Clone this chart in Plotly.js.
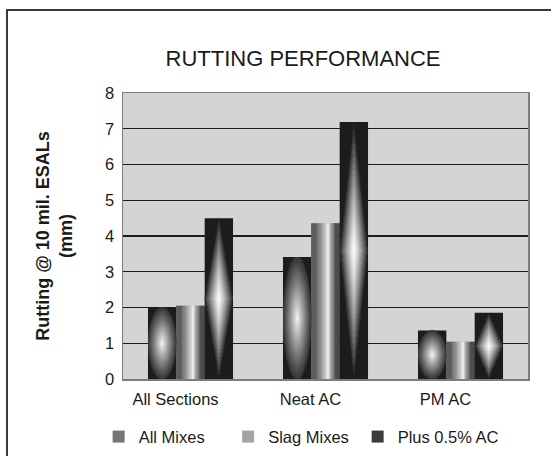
<!DOCTYPE html>
<html>
<head>
<meta charset="utf-8">
<script src="https://cdn.plot.ly/plotly-3.0.1.min.js"></script>
<style>
  html, body { margin: 0; padding: 0; background: #ffffff; }
  #wrap { position: relative; width: 551px; height: 456px; overflow: hidden; }
  #chart { position: absolute; left: 0; top: 0; width: 551px; height: 456px; }
  #frame { position: absolute; left: 6px; top: 9px; width: 700px; height: 700px;
           border-left: 2px solid #3a3a3a; border-top: 2px solid #3a3a3a; pointer-events: none; }
  #chart .barlayer path { shape-rendering: geometricPrecision !important; }
  #chart .legend .scrollbox { clip-path: none !important; }
</style>
</head>
<body>
<div id="wrap">
  <div id="chart"></div>
  <div id="frame"></div>
</div>
<script>
// ---- data ----
const categories = ['All Sections', 'Neat AC', 'PM AC'];
const seriesNames = ['All Mixes', 'Slag Mixes', 'Plus 0.5% AC'];
const allMixes = [2.0, 3.41, 1.36];
const slagMixes = [2.05, 4.36, 1.04];
const plusAC = [4.5, 7.19, 1.85];
const yTickVals = [0, 1, 2, 3, 4, 5, 6, 7, 8];
const yTickText = ['0', '1', '2', '3', '4', '5', '6', '7', '8'];

// ---- styling helpers ----
const BAR_W = 0.21;
const OFFSETS = [-0.315, -0.105, 0.105];
const BLACK = '#1e1b1b';

function hex(c) { return [parseInt(c.slice(1,3),16), parseInt(c.slice(3,5),16), parseInt(c.slice(5,7),16)]; }
function mix(a, b, f) {
  const A = hex(a), B = hex(b);
  return 'rgb(' + A.map((v, i) => Math.round(v + (B[i] - v) * f)).join(',') + ')';
}
function profile(stops, u) {
  for (let i = 1; i < stops.length; i++) {
    if (u <= stops[i][0]) {
      const f = (u - stops[i-1][0]) / (stops[i][0] - stops[i-1][0]);
      return mix(stops[i-1][1], stops[i][1], f);
    }
  }
  return stops[stops.length-1][1];
}
// one decorative rectangle per category, sized as fractions of the data bar
function part(values, si, fl, fw, fb, fh, color) {
  fw = Math.min(fw, 1); fh = Math.min(fh, 1);
  fl = Math.max(fl, 0); fb = Math.max(fb, 0);
  return {
    type: 'bar', x: categories,
    y: values.map(v => v * fh), base: values.map(v => v * fb),
    offset: OFFSETS[si] + BAR_W * fl, width: BAR_W * fw,
    marker: { color: color, line: { width: 0 } },
    hoverinfo: 'skip', showlegend: false
  };
}

const traces = [];
// legend entries (drawn first, fully hidden behind the real bars)
const legendColors = ['#767676', '#a4a4a4', '#3c3c3c'];
[allMixes, slagMixes, plusAC].forEach((vals, si) => {
  traces.push({
    type: 'bar', name: seriesNames[si], x: categories, y: vals.map(v => v * 0.5),
    base: vals.map(v => v * 0.25),
    offset: OFFSETS[si] + BAR_W * 0.25, width: BAR_W * 0.5,
    marker: { color: legendColors[si], line: { width: 0 } },
    hoverinfo: 'skip', showlegend: true
  });
});
// base bars
[allMixes, slagMixes, plusAC].forEach((vals, si) => {
  traces.push({
    type: 'bar', name: seriesNames[si], x: categories, y: vals,
    offset: OFFSETS[si], width: BAR_W,
    marker: { color: si === 1 ? legendColors[1] : BLACK, line: { width: 0 } },
    hovertemplate: '%{x}: %{y} mm<extra>' + seriesNames[si] + '</extra>',
    showlegend: false
  });
});

// All Mixes: elliptical radial gradient
(function () {
  const L = 20, m = 14;
  const step = Math.PI / 2 / m;
  const s = 2 / (1 + Math.sqrt(2) * Math.cos(Math.PI / 4 + step / 2));
  for (let k = 0; k < L; k++) {
    const t = 1 - k / L;
    const tc = t - 0.5 / L;
    const col = mix('#333333', '#f2f2f2', Math.pow(1 - tc, 1.1));
    for (let j = 0; j < m; j++) {
      const th = (j + 0.5) * step;
      const w = t * s * Math.cos(th), h = t * s * Math.sin(th);
      traces.push(part(allMixes, 0, 0.5 - w / 2, w, 0.5 - h / 2, h, col));
    }
  }
})();

// Slag Mixes: cylindrical (horizontal) gradient
(function () {
  const N = 24;
  const stops = [[0, '#404040'], [0.25, '#707070'], [0.48, '#c8c8c8'], [0.58, '#fafafa'],
                 [0.7, '#a0a0a0'], [0.85, '#505050'], [1, '#262626']];
  for (let i = 0; i < N; i++) {
    const u = (i + 0.5) / N;
    traces.push(part(slagMixes, 1, i / N, 1 / N + 0.002, 0, 1, profile(stops, u)));
  }
})();

// Plus 0.5% AC: diamond gradient
(function () {
  const L = 18, m = 16;
  const s = 1 + 0.5 / m;
  for (let k = 0; k < L; k++) {
    const t = 1 - k / L;
    const tc = t - 0.5 / L;
    const col = mix('#262323', '#f8f8f8', 1 - Math.pow(Math.max(tc, 0), 1.3));
    for (let j = 0; j < m; j++) {
      const u = (j + 0.5) / m;
      const w = t * s * u, h = t * s * (1 - u);
      traces.push(part(plusAC, 2, 0.5 - w / 2, w, 0.5 - h / 2, h, col));
    }
  }
})();

const layout = {
  width: 551, height: 456,
  margin: { l: 123, r: 23, t: 93, b: 77 },
  paper_bgcolor: '#ffffff',
  plot_bgcolor: '#d3d4d6',
  barmode: 'overlay',
  font: { family: 'Liberation Sans, Arial, sans-serif', color: '#1a1a1a' },
  title: {
    text: 'RUTTING PERFORMANCE',
    font: { size: 22, color: '#1a1a1a' },
    x: 0.55, xref: 'container', xanchor: 'center',
    y: 0.873, yref: 'container', yanchor: 'middle'
  },
  xaxis: {
    type: 'category', categoryorder: 'array', categoryarray: categories,
    range: [-0.5, 2.5],
    showline: true, linecolor: '#7d7d7d', linewidth: 1.5, mirror: true,
    showgrid: false, ticks: '', ticklabelstandoff: 5, ticklabelshift: -15,
    tickfont: { size: 16.5, color: '#1a1a1a' }
  },
  yaxis: {
    range: [0, 8], tickvals: yTickVals, ticktext: yTickText,
    showline: true, linecolor: '#7d7d7d', linewidth: 1.5, mirror: true,
    showgrid: true, gridcolor: '#1c1c1c', gridwidth: 1.2, zeroline: false,
    ticks: '', ticklabelstandoff: 4,
    tickfont: { size: 16.5, color: '#1a1a1a' },
    title: {
      text: '<b>Rutting @ 10 mil. ESALs</b><br><b>(mm)</b>',
      font: { size: 18, color: '#1a1a1a' },
      standoff: 27
    }
  },
  legend: {
    orientation: 'h', x: 0.532, xref: 'container', xanchor: 'center',
    y: 0.042, yref: 'container', yanchor: 'middle',
    font: { size: 16.5, color: '#1a1a1a' }, itemwidth: 30,
    entrywidth: 84.5, entrywidthmode: 'pixels',
    bgcolor: 'rgba(0,0,0,0)', traceorder: 'normal'
  },
  showlegend: true
};

Plotly.newPlot('chart', traces, layout, { staticPlot: true, displayModeBar: false });
</script>
</body>
</html>
